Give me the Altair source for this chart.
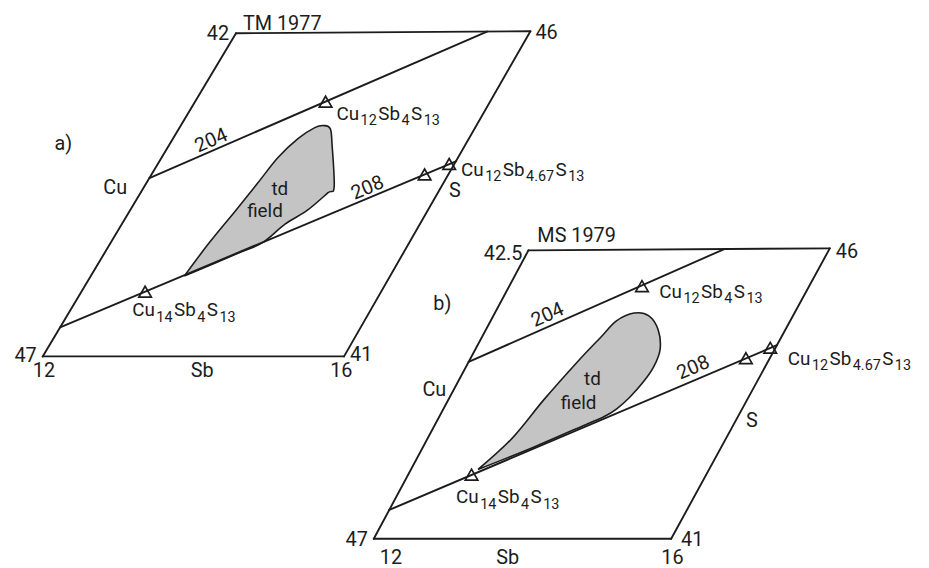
import math
import altair as alt
import pandas as pd

# ---------------- data: diagram compositions ----------------
PANELS = ["a", "b"]
PANEL_TAG = ["a)", "b)"]
PANEL_SOURCE = ["TM 1977", "MS 1979"]
SB_RANGE = [12, 16]
CU_BOTTOM = 47
CU_TOP = [42, 42.5]
CU_TOP_LABEL = ["42", "42.5"]
CU_BOTTOM_LABEL = ["47", "47"]
SB_LOW_LABEL = ["12", "12"]
SB_HIGH_LABEL = ["16", "16"]
S_BOTTOM_LABEL = ["41", "41"]
S_TOP_LABEL = ["46", "46"]

PHASE_NAME = ["Cu14Sb4S13", "Cu12Sb4S13", "Cu12Sb4.67S13", "Cu12Sb4.67S13"]
PHASE_SB = [12.85, 13.77, 15.68, 15.93]
PHASE_CU = [46.00, 43.07, 44.20, 44.04]

TIE_NAME = ["204", "208"]
TIE_SB0 = [12.0, 12.0]
TIE_CU0 = [44.24, 46.55]
TIE_SB1 = {"a": [15.41, 16.0], "b": [14.60, 16.0]}
TIE_CU1 = {"a": [42.0, 44.0], "b": [42.5, 44.0]}

FIELD_A_SB = [13.25, 13.32, 13.42, 13.50, 13.57, 13.69, 13.83, 13.94, 14.05,
              14.19, 14.56, 14.52, 14.38, 14.19, 14.03, 13.77, 13.25]
FIELD_A_CU = [45.76, 45.25, 44.75, 44.32, 43.93, 43.64, 43.47, 43.44, 43.49,
              43.72, 44.39, 44.48, 44.75, 44.96, 45.25, 45.42, 45.76]
FIELD_B_SB = [12.90, 13.13, 13.28, 13.45, 13.59, 13.68, 13.86, 14.07, 14.30,
              14.47, 14.51, 14.48, 14.41, 14.32, 14.21, 14.04, 13.49, 12.90]
FIELD_B_CU = [45.92, 45.44, 44.83, 44.26, 43.86, 43.61, 43.49, 43.53, 43.75,
              44.06, 44.33, 44.57, 44.80, 44.98, 45.10, 45.21, 45.57, 45.92]

FORMULA = {
    "Cu14Sb4S13": [("Cu", 0), ("14", 1), ("Sb", 0), ("4", 1), ("S", 0), ("13", 1)],
    "Cu12Sb4S13": [("Cu", 0), ("12", 1), ("Sb", 0), ("4", 1), ("S", 0), ("13", 1)],
    "Cu12Sb4.67S13": [("Cu", 0), ("12", 1), ("Sb", 0), ("4.67", 1), ("S", 0), ("13", 1)],
}

# ---------------- layout / style ----------------
INK = "#1c1c1c"
FIELD_FILL = "#c4c4c4"
FONT = "Roboto"
MAIN_SIZE = 19
SUB_SIZE = 14.5
SUB_SHIFT = 5.5
PIECE_GAP = 1.5
LABEL_SIZE = 20
FIELD_LABEL_SIZE = 19

CORNERS = {
    "a": {"BL": (43, 357), "BR": (347, 357), "TL": (238, 31), "TR": (535, 29)},
    "b": {"BL": (377, 541), "BR": (677, 541), "TL": (533, 250), "TR": (837, 248)},
}

# (panel, text, anchor Sb, anchor Cu, dx, dy, align, size)
LABELS = [
    ("a", "47", 12, 47, -6, 6, "right", LABEL_SIZE),
    ("a", "12", 12, 47, -10, 21, "left", LABEL_SIZE),
    ("a", "Sb", 14, 47, 9, 21, "center", LABEL_SIZE),
    ("a", "16", 16, 47, -14, 21, "left", LABEL_SIZE),
    ("a", "41", 16, 47, 6, 5, "left", LABEL_SIZE),
    ("a", "42", 12, 42, -7, 7, "right", LABEL_SIZE),
    ("a", "TM 1977", 12, 42, 7, -3, "left", LABEL_SIZE),
    ("a", "46", 16, 42, 5, 8, "left", LABEL_SIZE),
    ("a", "Cu", 12, 44.38, -17, 7, "right", LABEL_SIZE),
    ("a", "S", 16, 44.45, 10, 6, "left", LABEL_SIZE),
    ("a", "a)", 12, 42, -183, 118, "left", LABEL_SIZE),
    ("a", "td", 13.88, 44.67, 7, -10, "center", FIELD_LABEL_SIZE),
    ("a", "field", 13.88, 44.67, -8, 12, "center", FIELD_LABEL_SIZE),
    ("b", "47", 12, 47, -6, 7, "right", LABEL_SIZE),
    ("b", "12", 12, 47, 6, 25, "left", LABEL_SIZE),
    ("b", "Sb", 14, 47, -15, 25, "center", LABEL_SIZE),
    ("b", "16", 16, 47, -10, 25, "left", LABEL_SIZE),
    ("b", "41", 16, 47, 10, 7, "left", LABEL_SIZE),
    ("b", "42.5", 12, 42.5, -6, 10, "right", LABEL_SIZE),
    ("b", "MS 1979", 12, 42.5, 9, -8, "left", LABEL_SIZE),
    ("b", "46", 16, 42.5, 6, 10, "left", LABEL_SIZE),
    ("b", "Cu", 12, 44.66, -8, 7, "right", LABEL_SIZE),
    ("b", "S", 16, 45.16, 10, 7, "left", LABEL_SIZE),
    ("b", "b)", 12, 42.5, -96, 60, "left", LABEL_SIZE),
    ("b", "td", 13.77, 44.75, 9, -9, "center", FIELD_LABEL_SIZE),
    ("b", "field", 13.77, 44.75, -5, 15, "center", FIELD_LABEL_SIZE),
]

# (panel, phase index, dx, dy) for the formula labels
FORMULA_LABELS = [
    ("a", 1, 11, 18), ("a", 3, 12, 12), ("a", 0, -13, 25),
    ("b", 1, 17.5, 12), ("b", 3, 17.7, 17.4), ("b", 0, -15.6, 28.8),
]

# (panel, tie index, Sb along the line, distance above line)
TIE_LABELS = [("a", 0, 12.66, 10), ("a", 1, 15.14, 10),
              ("b", 0, 12.85, 11), ("b", 1, 15.19, 12)]

CHAR_W = {"C": 0.652, "u": 0.549, "S": 0.594, "b": 0.561, ".": 0.257}


def place(panel, sb, cu):
    i = PANELS.index(panel)
    s = (sb - SB_RANGE[0]) / (SB_RANGE[1] - SB_RANGE[0])
    t = (CU_BOTTOM - cu) / (CU_BOTTOM - CU_TOP[i])
    c = CORNERS[panel]

    def mix(k):
        return ((1 - s) * (1 - t) * c["BL"][k] + s * (1 - t) * c["BR"][k]
                + (1 - s) * t * c["TL"][k] + s * t * c["TR"][k])
    return mix(0), mix(1)


def text_width(txt, size):
    return sum(CHAR_W.get(ch, 0.5615) for ch in txt) * size


# ---- segments: frames and tie lines ----
seg_rows = []
for i, p in enumerate(PANELS):
    top = CU_TOP[i]
    corners = [(12, 47), (16, 47), (16, top), (12, top)]
    for k in range(4):
        a0 = place(p, *corners[k])
        a1 = place(p, *corners[(k + 1) % 4])
        seg_rows.append({"x": a0[0], "y": a0[1], "x2": a1[0], "y2": a1[1]})
    for j in range(len(TIE_NAME)):
        a0 = place(p, TIE_SB0[j], TIE_CU0[j])
        a1 = place(p, TIE_SB1[p][j], TIE_CU1[p][j])
        seg_rows.append({"x": a0[0], "y": a0[1], "x2": a1[0], "y2": a1[1]})
seg_df = pd.DataFrame(seg_rows)

# ---- phases ----
ph_rows = []
for p in PANELS:
    for k in range(len(PHASE_NAME)):
        x, y = place(p, PHASE_SB[k], PHASE_CU[k])
        ph_rows.append({"x": x, "y": y, "phase": PHASE_NAME[k]})
ph_df = pd.DataFrame(ph_rows)

# ---- fields ----
def field_df(panel, sbs, cus):
    rows = []
    for k, (sb, cu) in enumerate(zip(sbs, cus)):
        x, y = place(panel, sb, cu)
        rows.append({"x": x, "y": y, "i": k})
    return pd.DataFrame(rows)

fa_df = field_df("a", FIELD_A_SB, FIELD_A_CU)
fb_df = field_df("b", FIELD_B_SB, FIELD_B_CU)

# ---- text ----
txt_rows = []
for p, text, sb, cu, dx, dy, align, size in LABELS:
    x, y = place(p, sb, cu)
    txt_rows.append({"x": x + dx, "y": y + dy, "text": text, "size": size, "align": align})

for p, k, dx, dy in FORMULA_LABELS:
    x, y = place(p, PHASE_SB[k], PHASE_CU[k])
    cx = x + dx
    for piece, sub in FORMULA[PHASE_NAME[k]]:
        size = SUB_SIZE if sub else MAIN_SIZE
        txt_rows.append({"x": cx, "y": y + dy + (SUB_SHIFT if sub else 0),
                         "text": piece, "size": size, "align": "left"})
        cx += text_width(piece, size) + PIECE_GAP
txt_df = pd.DataFrame(txt_rows)

tie_rows = []
for p, j, sb, dist in TIE_LABELS:
    sb0, cu0 = TIE_SB0[j], TIE_CU0[j]
    sb1, cu1 = TIE_SB1[p][j], TIE_CU1[p][j]
    cu = cu0 + (sb - sb0) / (sb1 - sb0) * (cu1 - cu0)
    x, y = place(p, sb, cu)
    x0, y0 = place(p, sb0, cu0)
    x1, y1 = place(p, sb1, cu1)
    L = math.hypot(x1 - x0, y1 - y0)
    ux, uy = (x1 - x0) / L, (y1 - y0) / L
    nx, ny = uy, -ux
    ang = math.degrees(math.atan2(y1 - y0, x1 - x0)) % 360
    tie_rows.append({"x": x + nx * dist, "y": y + ny * dist, "text": TIE_NAME[j],
                     "angle": ang, "size": LABEL_SIZE})
tie_df = pd.DataFrame(tie_rows)

# ---------------- chart ----------------
XS = alt.Scale(domain=[8, 929], nice=False, zero=False)
YS = alt.Scale(domain=[8, 568], nice=False, zero=False, reverse=True)
X = alt.X("x:Q", scale=XS, axis=None)
Y = alt.Y("y:Q", scale=YS, axis=None)

fields = [
    alt.Chart(fa_df).mark_line(interpolate="cardinal", fill=FIELD_FILL, stroke=INK,
                               strokeWidth=1.6).encode(x=X, y=Y, order=alt.Order("i:Q")),
    alt.Chart(fb_df).mark_line(interpolate="cardinal", fill=FIELD_FILL, stroke=INK,
                               strokeWidth=1.6).encode(x=X, y=Y, order=alt.Order("i:Q")),
]

segs = alt.Chart(seg_df).mark_rule(color=INK, strokeWidth=1.9, strokeCap="round").encode(
    x=X, y=Y, x2="x2:Q", y2="y2:Q")

tris = alt.Chart(ph_df).mark_point(shape="triangle-up", filled=False, size=160,
                                   strokeWidth=1.7, color=INK, opacity=1).encode(x=X, y=Y)

text_layers = []
for al in ["left", "right", "center"]:
    sub = txt_df[txt_df["align"] == al]
    text_layers.append(
        alt.Chart(sub).mark_text(align=al, baseline="alphabetic", font=FONT, color=INK).encode(
            x=X, y=Y, text="text:N", size=alt.Size("size:Q", scale=None)))

tie_text = alt.Chart(tie_df).mark_text(align="center", baseline="middle", font=FONT,
                                        color=INK).encode(
    x=X, y=Y, text="text:N", size=alt.Size("size:Q", scale=None),
    angle=alt.Angle("angle:Q", scale=None))

chart = alt.layer(*fields, segs, tris, *text_layers, tie_text).properties(
    width=921, height=560, autosize=alt.AutoSizeParams(type="none"), padding=0
).configure_view(stroke=None)

chart.save("out.html", embed_options={"renderer": "svg", "actions": False})
